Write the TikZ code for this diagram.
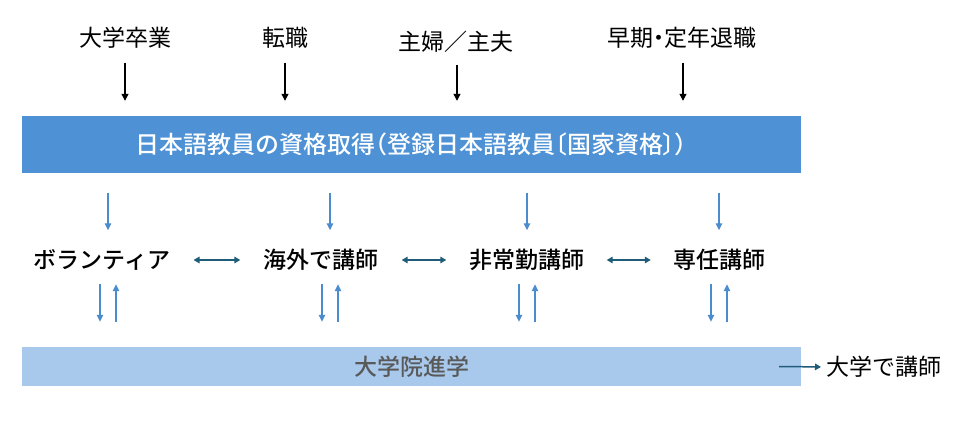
\documentclass[tikz,border=0pt]{standalone}
\usepackage{fontspec}
\setmainfont{Noto Sans CJK JP}
\newfontfamily\jpmed{Noto Sans CJK JP}[UprightFont={* Medium}]
\newfontfamily\jpprop{Noto Sans CJK JP}[UprightFont={* Medium},RawFeature=+palt]
\newfontfamily\jppropreg{Noto Sans CJK JP}[RawFeature=+palt]
\usetikzlibrary{arrows.meta}
\definecolor{barblue}{RGB}{78,146,213}
\definecolor{barlight}{RGB}{168,201,236}
\definecolor{arrblue}{RGB}{74,140,205}
\definecolor{arrteal}{RGB}{31,92,120}
\definecolor{txtgray}{RGB}{89,89,89}

\begin{document}
\begin{tikzpicture}[x=1pt,y=-1pt,
    lbl/.style={inner sep=0pt,minimum height=23pt,font=\fontsize{23}{27}\selectfont},
    job/.style={lbl,font=\fontsize{23}{27}\selectfont\jpmed},
    bar/.style={draw=none,inner sep=0pt,minimum width=779pt},
    blkarr/.style={line width=1.2pt,-{Triangle[length=7pt,width=7pt]}},
    bluarr/.style={draw=arrblue,line width=1.3pt,-{Triangle[length=7pt,width=6.5pt]}},
    tealarr/.style={draw=arrteal,line width=1.5pt,{Triangle[length=6pt,width=6.5pt]}-{Triangle[length=6pt,width=6.5pt]}},
  ]
      \useasboundingbox (0,0) rectangle (978,422);

      % top: where people come from
      \node[lbl] (grad) at (125,38) {大学卒業};
      \node[lbl] (change) at (285,38) {転職};
      \node[lbl] (home) at (456,42) {主婦／主夫};
      \node[lbl,font=\fontsize{23}{27}\selectfont\jppropreg] (retire) at (682,38) {早期・定年退職};

      \node[bar,fill=barblue,minimum height=57pt,text=white,font=\fontsize{24}{28}\selectfont\jpprop] (qual) at (411.5,144.5) {日本語教員の資格取得（登録日本語教員〔国家資格〕）};

      \draw[blkarr,shorten <=13pt,shorten >=15pt] (grad.south) -- (grad.south |- qual.north);
      \draw[blkarr,shorten <=13pt,shorten >=15pt] (change.south) -- (change.south |- qual.north);
      \draw[blkarr,shorten <=11pt,shorten >=15pt] ([xshift=1pt]home.south) -- ([xshift=1pt]home.south |- qual.north);
      \draw[blkarr,shorten <=13pt,shorten >=15pt] ([xshift=1pt]retire.south) -- ([xshift=1pt]retire.south |- qual.north);

      % middle: kinds of work
      \node[job] (vol) at (102,260) {ボランティア};
      \node[job] (abroad) at (321,260) {海外で講師};
      \node[job] (part) at (527,260) {非常勤講師};
      \node[job] (full) at (719,260) {専任講師};

      \coordinate (c1) at (108,260);
      \coordinate (c2) at (330,260);
      \coordinate (c3) at (527,260);
      \coordinate (c4) at (719,260);

      \foreach \c/\n in {c1/vol,c2/abroad,c3/part,c4/full}
        \draw[bluarr,shorten <=20pt,shorten >=18pt] (\c |- qual.south) -- (\c |- \n.north);

      \draw[tealarr,shorten <=23pt,shorten >=23pt] (vol.east) -- (abroad.west);
      \draw[tealarr,shorten <=23pt,shorten >=23pt] (abroad.east) -- (part.west);
      \draw[tealarr,shorten <=22pt,shorten >=22pt] (part.east) -- (full.west);

      % bottom: graduate school
      \node[bar,fill=barlight,minimum height=39pt,text=txtgray,font=\fontsize{23}{27}\selectfont\jpmed] (grad2) at (411.5,366.5) {大学院進学};

      \foreach \c/\n in {c1/vol,c2/abroad,c3/part,c4/full}{
        \draw[bluarr,shorten <=12.5pt,shorten >=25pt] ([xshift=-8pt]\c |- \n.south) -- ([xshift=-8pt]\c |- grad2.north);
        \draw[bluarr,shorten <=25pt,shorten >=12.5pt] ([xshift=8pt]\c |- grad2.north) -- ([xshift=8pt]\c |- \n.south);
      }

      \node[lbl,anchor=west] (univ) at (826,367) {大学で講師};
      \draw[draw=arrteal,line width=1.5pt,-{Triangle[length=6pt,width=6.5pt]},shorten >=5pt] ([xshift=-22pt]grad2.east) -- (univ.west);
\end{tikzpicture}
\end{document}
